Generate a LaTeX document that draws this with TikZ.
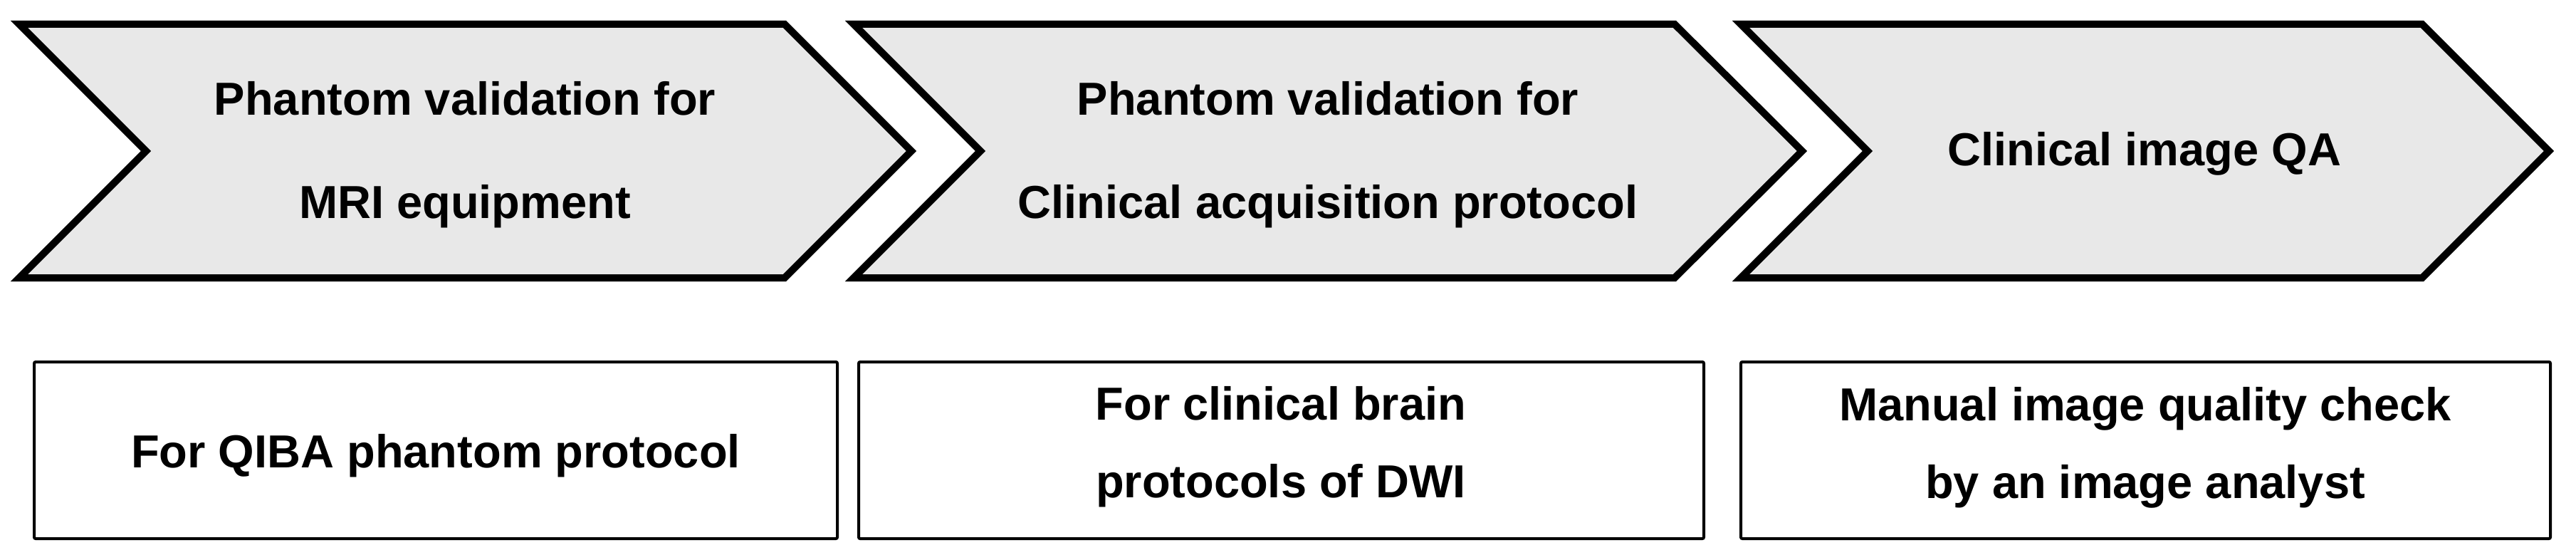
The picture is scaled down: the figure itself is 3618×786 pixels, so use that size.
\documentclass[tikz,border=0pt]{standalone}
\usepackage{fontspec}
\setmainfont{Liberation Sans}
\definecolor{chevfill}{RGB}{232,232,232}
\begin{document}
\begin{tikzpicture}[x=1pt,y=-1pt,
  chevron/.style={draw=black,line width=10pt,fill=chevfill,line join=miter,miter limit=10},
  infobox/.style={draw=black,line width=4pt,fill=white,rounded corners=2pt,inner sep=0pt},
  ctext/.style={anchor=base,align=center,inner sep=0pt,font=\fontsize{65}{145}\selectfont\bfseries},
  btext/.style={anchor=base,align=center,inner sep=0pt,font=\fontsize{65}{109}\selectfont\bfseries}]
\useasboundingbox (0,0) rectangle (3618,786);
% chevrons
\draw[chevron] (27,34) -- (1102,34) -- (1280,212) -- (1102,390) -- (27,390) -- (205,212) -- cycle;
\draw[chevron] (1199,34) -- (2352,34) -- (2531,212) -- (2352,390) -- (1199,390) -- (1377,212) -- cycle;
\draw[chevron] (2445,34) -- (3402,34) -- (3580,212) -- (3402,390) -- (2445,390) -- (2623,212) -- cycle;
% multi-line nodes: anchor base = baseline of last line
\node[ctext] (c1) at (653,306) {Phantom validation for\\MRI equipment};
\node[ctext] (c2) at (1865,306) {Phantom validation for\\Clinical acquisition protocol};
\node[ctext] (c3) at (3012,233) {Clinical image QA};
% boxes
\draw[infobox] (48,508) rectangle (1176,756);
\draw[infobox] (1206,508) rectangle (2393,756);
\draw[infobox] (2445,508) rectangle (3582,756);
\node[btext] (b1) at (612,656) {For QIBA phantom protocol};
\node[btext] (b2) at (1799,698) {For clinical brain\\protocols of DWI};
\node[btext] (b3) at (3013,699) {Manual image quality check\\by an image analyst};
\end{tikzpicture}
\end{document}
